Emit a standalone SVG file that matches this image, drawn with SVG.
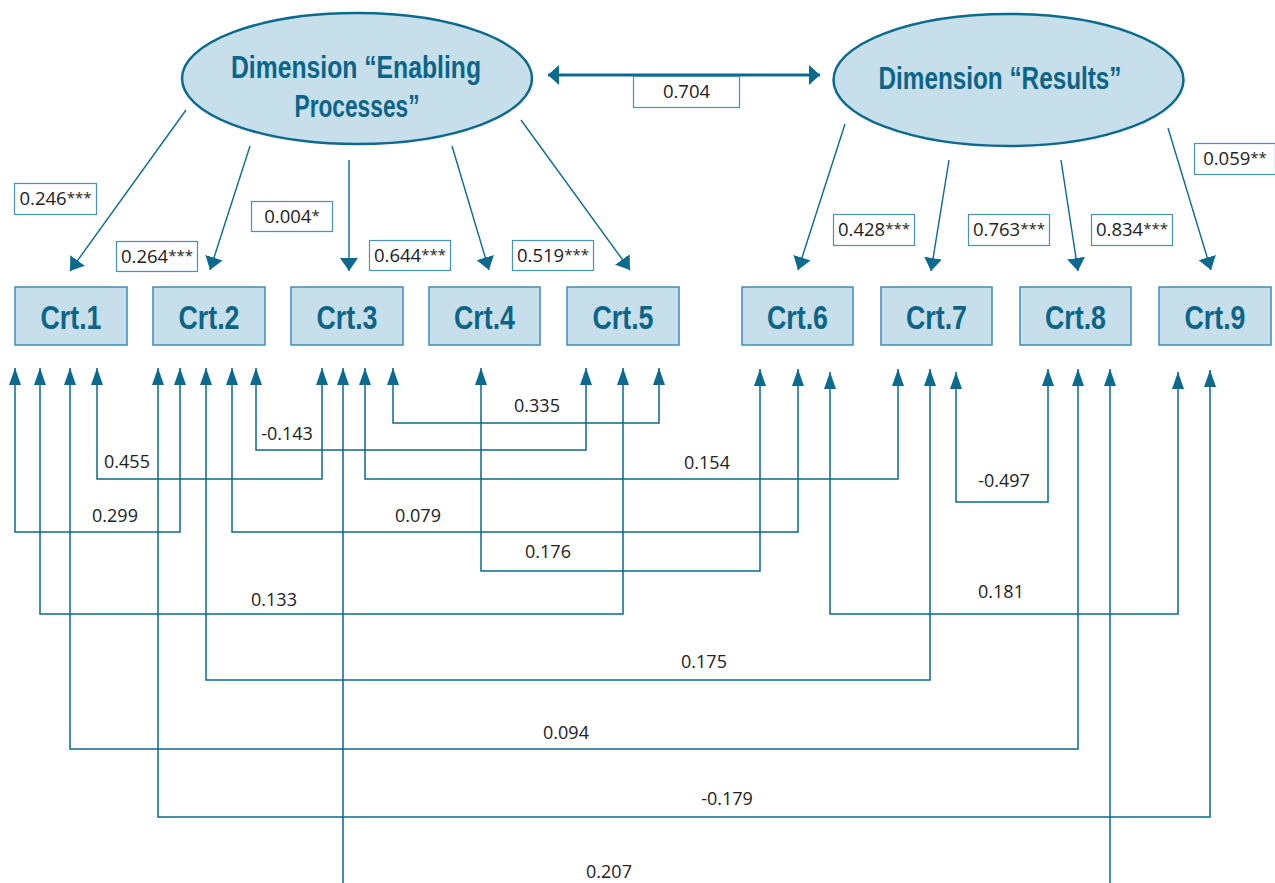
<svg xmlns="http://www.w3.org/2000/svg" width="1275" height="883" viewBox="0 0 1275 883">
  <defs>
    <style>
      .ell { fill: #c6dfeb; stroke: #0d6a8f; stroke-width: 2.5; }
      .crt rect { fill: #c6dfeb; stroke: #4a91b8; stroke-width: 1.6; }
      .crt text { font-family: "Liberation Sans", Arial, sans-serif; font-weight: bold; font-size: 34px; fill: #0c6488; text-anchor: middle; }
      .etxt { font-family: "Liberation Sans", Arial, sans-serif; font-weight: bold; font-size: 32px; fill: #0c6488; text-anchor: middle; }
      .lbl rect { fill: #ffffff; stroke: #4a91b8; stroke-width: 1.2; }
      .lbl text { font-family: "Open Sans", "Liberation Sans", sans-serif; font-size: 18.5px; fill: #222222; text-anchor: middle; }
      .ast { font-size: 15px; }
      .num { font-family: "Open Sans", "Liberation Sans", sans-serif; font-size: 18px; fill: #222222; text-anchor: middle; }
      .top { fill: none; stroke: #0b6a8e; stroke-width: 1.4; marker-end: url(#ahTop); }
      .cor { fill: none; stroke: #0b6a8e; stroke-width: 1.5; marker-start: url(#ahBot); marker-end: url(#ahBot); }
      .dbl { fill: none; stroke: #0b6a8e; stroke-width: 3; marker-start: url(#ahDbl); marker-end: url(#ahDbl); }
    </style>
    <marker id="ahTop" markerUnits="userSpaceOnUse" markerWidth="13" markerHeight="18" refX="13" refY="9" orient="auto">
      <path d="M0,0 L13,9 L0,18 Z" fill="#0b6a8e"/>
    </marker>
    <marker id="ahBot" markerUnits="userSpaceOnUse" markerWidth="17" markerHeight="12" refX="17" refY="6" orient="auto-start-reverse">
      <path d="M0,0 L17,6 L0,12 Z" fill="#0b6a8e"/>
    </marker>
    <marker id="ahDbl" markerUnits="userSpaceOnUse" markerWidth="11" markerHeight="20" refX="11" refY="10" orient="auto-start-reverse">
      <path d="M0,0 L11,10 L0,20 Z" fill="#0b6a8e"/>
    </marker>
  </defs>

  <g id="connectors">
    <path class="dbl" d="M548,75 H820"/>
    <path class="top" d="M186,110 L70,271"/>
    <path class="top" d="M250,146 L210,270"/>
    <path class="top" d="M349,160 L349,271"/>
    <path class="top" d="M452,146 L489,270"/>
    <path class="top" d="M521,120 L630,270"/>
    <path class="top" d="M845,124 L798,270"/>
    <path class="top" d="M949,160 L931,271"/>
    <path class="top" d="M1061,160 L1078,271"/>
    <path class="top" d="M1168,128 L1211,270"/>

    <path class="cor" d="M393,368 V423 H659 V368"/>
    <path class="cor" d="M256,368 V450 H586 V368"/>
    <path class="cor" d="M97,368 V479 H322 V368"/>
    <path class="cor" d="M365,368 V479 H898 V369"/>
    <path class="cor" d="M956,372 V502 H1048 V369"/>
    <path class="cor" d="M15,368 V532 H180 V368"/>
    <path class="cor" d="M232,368 V532 H798 V369"/>
    <path class="cor" d="M481,368 V571 H760 V369"/>
    <path class="cor" d="M40,368 V614 H623 V368"/>
    <path class="cor" d="M830,372 V614 H1178 V372"/>
    <path class="cor" d="M206,368 V680 H930 V369"/>
    <path class="cor" d="M70,368 V749 H1078 V369"/>
    <path class="cor" d="M158,368 V817 H1210 V370"/>
    <path class="cor" d="M343,368 V900 H1110 V369"/>
  </g>

  <g id="labels">
    <g class="lbl"><rect x="14.5" y="183.5" width="82" height="31"/><text x="55.5" y="205">0.246<tspan class="ast" dy="-2">***</tspan></text></g>
    <g class="lbl"><rect x="116.5" y="241.5" width="81" height="30"/><text x="157" y="263">0.264<tspan class="ast" dy="-2">***</tspan></text></g>
    <g class="lbl"><rect x="251.5" y="201.5" width="81" height="30"/><text x="292" y="223">0.004<tspan class="ast" dy="-2">*</tspan></text></g>
    <g class="lbl"><rect x="369.5" y="240.5" width="81" height="30"/><text x="410" y="262">0.644<tspan class="ast" dy="-2">***</tspan></text></g>
    <g class="lbl"><rect x="512.5" y="240.5" width="81" height="30"/><text x="553" y="262">0.519<tspan class="ast" dy="-2">***</tspan></text></g>
    <g class="lbl"><rect x="633.5" y="76.5" width="106" height="31"/><text x="686.5" y="98">0.704</text></g>
    <g class="lbl"><rect x="833.5" y="214.5" width="81" height="31"/><text x="874" y="236">0.428<tspan class="ast" dy="-2">***</tspan></text></g>
    <g class="lbl"><rect x="968.5" y="214.5" width="81" height="31"/><text x="1009" y="236">0.763<tspan class="ast" dy="-2">***</tspan></text></g>
    <g class="lbl"><rect x="1091.5" y="214.5" width="81" height="31"/><text x="1132" y="236">0.834<tspan class="ast" dy="-2">***</tspan></text></g>
    <g class="lbl"><rect x="1194.5" y="143.5" width="81" height="31"/><text x="1235" y="165">0.059<tspan class="ast" dy="-2">**</tspan></text></g>
  </g>

  <g id="corr-values">
    <text class="num" x="537" y="412">0.335</text>
    <text class="num" x="287" y="440">-0.143</text>
    <text class="num" x="127" y="468">0.455</text>
    <text class="num" x="707" y="469">0.154</text>
    <text class="num" x="1004" y="487">-0.497</text>
    <text class="num" x="115" y="522">0.299</text>
    <text class="num" x="418" y="522">0.079</text>
    <text class="num" x="548" y="558">0.176</text>
    <text class="num" x="274" y="606">0.133</text>
    <text class="num" x="1001" y="598">0.181</text>
    <text class="num" x="704" y="668">0.175</text>
    <text class="num" x="566" y="739">0.094</text>
    <text class="num" x="727" y="805">-0.179</text>
    <text class="num" x="609" y="878">0.207</text>
  </g>

  <g id="dim-enabling">
    <ellipse class="ell" cx="357" cy="78.5" rx="175" ry="65.5"/>
    <text class="etxt" x="356" y="78" textLength="250" lengthAdjust="spacingAndGlyphs">Dimension “Enabling</text>
    <text class="etxt" x="357" y="117" textLength="125" lengthAdjust="spacingAndGlyphs">Processes”</text>
  </g>
  <g id="dim-results">
    <ellipse class="ell" cx="1008.5" cy="80" rx="175" ry="66"/>
    <text class="etxt" x="1000" y="89" textLength="243" lengthAdjust="spacingAndGlyphs">Dimension “Results”</text>
  </g>

  <g id="crt1" class="crt"><rect x="15" y="287" width="112" height="58"/><text x="71" y="329" textLength="61" lengthAdjust="spacingAndGlyphs">Crt.1</text></g>
  <g id="crt2" class="crt"><rect x="153" y="287" width="112" height="58"/><text x="209" y="329" textLength="61" lengthAdjust="spacingAndGlyphs">Crt.2</text></g>
  <g id="crt3" class="crt"><rect x="291" y="287" width="112" height="58"/><text x="347" y="329" textLength="61" lengthAdjust="spacingAndGlyphs">Crt.3</text></g>
  <g id="crt4" class="crt"><rect x="429" y="287" width="111" height="58"/><text x="484.5" y="329" textLength="61" lengthAdjust="spacingAndGlyphs">Crt.4</text></g>
  <g id="crt5" class="crt"><rect x="567" y="287" width="112" height="58"/><text x="623" y="329" textLength="61" lengthAdjust="spacingAndGlyphs">Crt.5</text></g>
  <g id="crt6" class="crt"><rect x="742" y="287" width="111" height="58"/><text x="797.5" y="329" textLength="61" lengthAdjust="spacingAndGlyphs">Crt.6</text></g>
  <g id="crt7" class="crt"><rect x="881" y="287" width="111" height="58"/><text x="936.5" y="329" textLength="61" lengthAdjust="spacingAndGlyphs">Crt.7</text></g>
  <g id="crt8" class="crt"><rect x="1020" y="287" width="111" height="58"/><text x="1075.5" y="329" textLength="61" lengthAdjust="spacingAndGlyphs">Crt.8</text></g>
  <g id="crt9" class="crt"><rect x="1159" y="287" width="112" height="58"/><text x="1215" y="329" textLength="61" lengthAdjust="spacingAndGlyphs">Crt.9</text></g>
</svg>
